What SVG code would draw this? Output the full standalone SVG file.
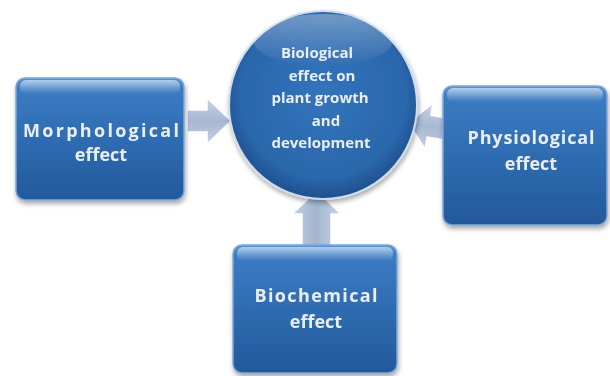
<svg xmlns="http://www.w3.org/2000/svg" width="610" height="376" viewBox="0 0 610 376">
<defs>
<linearGradient id="boxg" x1="0" y1="0" x2="0" y2="1">
<stop offset="0" stop-color="#5a95d4"/>
<stop offset="0.08" stop-color="#3b7bc2"/>
<stop offset="0.5" stop-color="#2f6cb2"/>
<stop offset="1" stop-color="#23599b"/>
</linearGradient>
<linearGradient id="gloss" x1="0" y1="0" x2="0" y2="1">
<stop offset="0" stop-color="#ffffff" stop-opacity="0.55"/>
<stop offset="1" stop-color="#ffffff" stop-opacity="0"/>
</linearGradient>
<radialGradient id="circg" cx="0.5" cy="0.45" r="0.55">
<stop offset="0" stop-color="#3274bb"/>
<stop offset="0.8" stop-color="#2b67ab"/>
<stop offset="1" stop-color="#1c4f8d"/>
</radialGradient>
<linearGradient id="arrh" x1="0" y1="0" x2="0" y2="1">
<stop offset="0" stop-color="#c9d4e6"/>
<stop offset="0.5" stop-color="#a7b8d3"/>
<stop offset="1" stop-color="#c3cfe2"/>
</linearGradient>
<linearGradient id="arrv" x1="0" y1="0" x2="1" y2="0">
<stop offset="0" stop-color="#c3cfe2"/>
<stop offset="0.5" stop-color="#a3b5d1"/>
<stop offset="1" stop-color="#c9d4e6"/>
</linearGradient>
<filter id="sh" x="-10%" y="-10%" width="125%" height="130%">
<feGaussianBlur in="SourceAlpha" stdDeviation="2.5"/>
<feOffset dx="1" dy="3" result="b"/>
<feComponentTransfer><feFuncA type="linear" slope="0.35"/></feComponentTransfer>
<feMerge><feMergeNode/><feMergeNode in="SourceGraphic"/></feMerge>
</filter>
</defs>
<style>
.box{fill:url(#boxg);stroke:#7fa8d8;stroke-width:1.5}
.gl{fill:url(#gloss)}
.t{font-family:"Open Sans","Liberation Sans",sans-serif;font-weight:bold;fill:#e9eef6;text-anchor:middle}
.big{font-size:18px}
.sm{font-size:15px}
.arr{stroke:#ffffff;stroke-width:1.5;stroke-linejoin:round}
</style>
<rect width="610" height="376" fill="#ffffff"/>
<g id="connectors">
<polygon class="arr" fill="url(#arrh)" points="187,110 207,110 207,98 231,121 207,144 207,132 187,132"/>
<polygon class="arr" fill="url(#arrh)" transform="rotate(10 428 126)" points="448,115 429,115 429,103 408,126 429,149 429,137 448,137"/>
<polygon class="arr" fill="url(#arrv)" points="302,247 302,214 292,214 317,191 341,214 331,214 331,247"/>
</g>
<g id="center" filter="url(#sh)">
<circle cx="323" cy="105" r="94" fill="url(#circg)" stroke="#cfdcee" stroke-width="2"/>
<ellipse cx="323" cy="40" rx="70" ry="26" fill="url(#gloss)" opacity="0.6"/>
<text class="t sm" x="317" y="58">Biological</text>
<text class="t sm" x="322" y="80.5">effect on</text>
<text class="t sm" x="320" y="103">plant growth</text>
<text class="t sm" x="326" y="125.5">and</text>
<text class="t sm" x="321" y="148">development</text>
</g>
<g id="morphological" filter="url(#sh)">
<rect class="box" x="16" y="78" width="168" height="122" rx="9"/>
<rect class="gl" x="20" y="80" width="160" height="14" rx="6"/>
<text class="t big" x="101" y="137" textLength="156" lengthAdjust="spacing">Morphological</text>
<text class="t big" x="101" y="161">effect</text>
</g>
<g id="physiological" filter="url(#sh)">
<rect class="box" x="443" y="86" width="164" height="139" rx="9"/>
<rect class="gl" x="447" y="88" width="156" height="14" rx="6"/>
<text class="t big" x="531" y="144" textLength="127" lengthAdjust="spacing">Physiological</text>
<text class="t big" x="531" y="170">effect</text>
</g>
<g id="biochemical" filter="url(#sh)">
<rect class="box" x="233" y="245" width="164" height="128" rx="9"/>
<rect class="gl" x="237" y="247" width="156" height="14" rx="6"/>
<text class="t big" x="316" y="302" textLength="123" lengthAdjust="spacing">Biochemical</text>
<text class="t big" x="316" y="328">effect</text>
</g>
</svg>
